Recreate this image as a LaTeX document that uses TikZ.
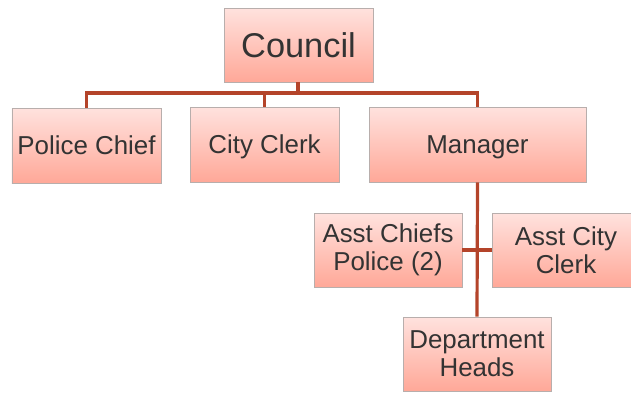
\documentclass[tikz,border=0pt]{standalone}
\usepackage{fontspec}
\setmainfont{Liberation Sans}
\usetikzlibrary{shadows}

\definecolor{boxtop}{HTML}{FFE2DE}
\definecolor{boxbottom}{HTML}{FFA898}
\definecolor{boxedge}{HTML}{B8AEAC}
\definecolor{linkred}{HTML}{B4442A}
\definecolor{textgray}{HTML}{333333}

\begin{document}
\begin{tikzpicture}[x = 1bp, y = -1bp,
	post/.style = {draw = boxedge, line width = 0.8bp, top color = boxtop, bottom color = boxbottom,
		text = textgray, inner sep = 0pt, align = center, font = \fontsize{26}{28}\selectfont,
		drop shadow = {opacity = 0.25, shadow xshift = 1bp, shadow yshift = -1bp}},
	link/.style = {draw = linkred, line width = 3.2bp}]

	\useasboundingbox (0, 0) rectangle (631, 392);

	% Top level
	
	\node [post, minimum width = 149bp, minimum height = 74bp, font = \fontsize{34.5}{36}\selectfont]
		(council) at (298.5, 45) {Council};
		
	% Second level: boxes below the council
	
	\node [post, minimum width = 149bp, minimum height = 75bp] (chief) at (86.5, 145.5) {Police Chief};
	\node [post, minimum width = 149bp, minimum height = 75bp, text depth = 0pt] (clerk) at (264.5, 144.5) {City Clerk};
	\node [post, minimum width = 217bp, minimum height = 75bp, text depth = 0pt] (manager) at (477.5, 144.5) {Manager};

	% Third level: assistants and department heads
	
	\node [post, minimum width = 148bp, minimum height = 74bp] (asstchiefs) at (388, 250) {Asst Chiefs\\Police (2)};
	\node [post, minimum width = 148bp, minimum height = 74bp] (asstclerk) at (566, 250) {Asst City\\Clerk};
	\node [post, minimum width = 148bp, minimum height = 74bp] (heads) at (477, 354) {Department\\Heads};

	% Connectors
	
	\coordinate (bus) at (298, 93);
	
	\draw [link] (council.south -| bus) -- (bus);
	\foreach \n in {chief, clerk}
		\draw [link] (bus) -| (\n.north);
	\draw [link] (bus) -| (manager.north);
	
	\draw [link] (manager.south) -- (heads.north);
	\draw [link] (asstchiefs.east) -- (asstclerk.west);

\end{tikzpicture}
\end{document}
